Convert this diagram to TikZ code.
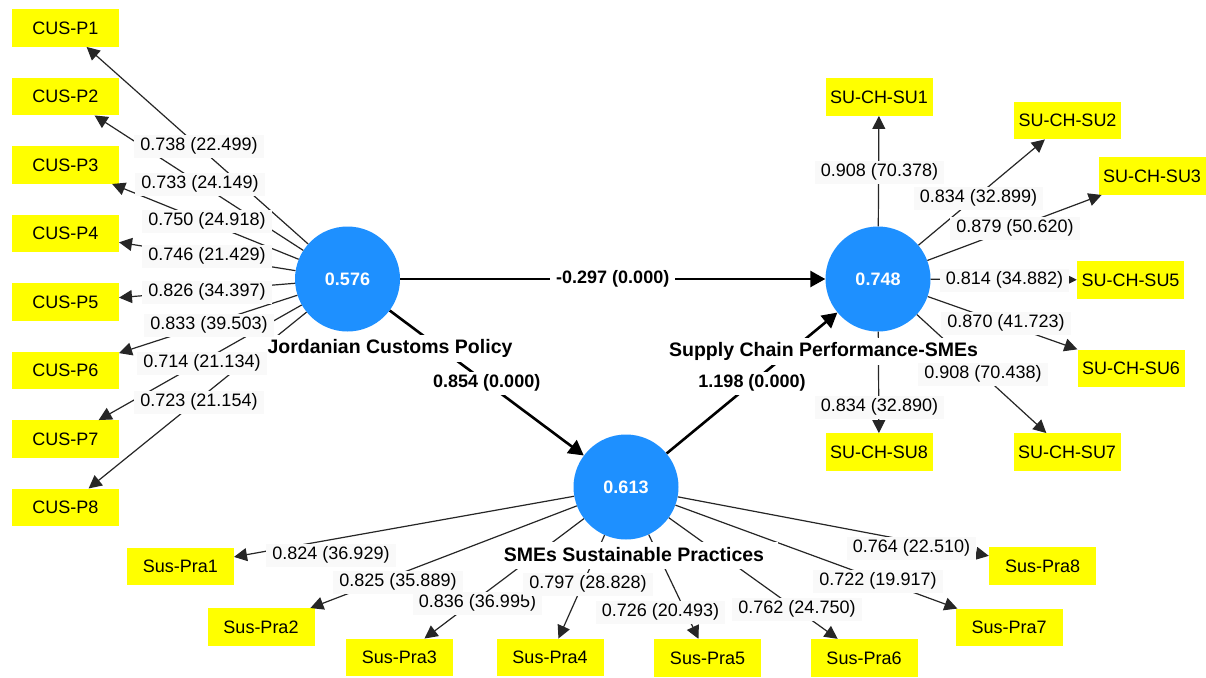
\documentclass[tikz,border=0pt]{standalone}
\usepackage{fontspec}
\setmainfont{Liberation Sans}
\usetikzlibrary{arrows.meta}
\definecolor{lvblue}{RGB}{30,144,255}
\definecolor{indyellow}{RGB}{255,255,0}
\begin{document}
\begin{tikzpicture}[x=1pt,y=-1pt,
  lv/.style={circle, fill=lvblue, minimum size=105pt, inner sep=0pt, text=white, font=\fontsize{18}{20}\selectfont\bfseries},
  ind/.style={rectangle, fill=indyellow, minimum width=107pt, minimum height=37.5pt, inner sep=0pt, font=\fontsize{18}{20}\selectfont},
  lvname/.style={fill=white, inner xsep=14pt, inner ysep=0pt, minimum height=27pt, font=\fontsize{19.5}{22}\selectfont\bfseries},
  loadval/.style={fill=black!2.5, inner xsep=6pt, inner ysep=3pt, text height=13pt, text depth=4pt, font=\fontsize{18}{20}\selectfont},
  pathval/.style={loadval, fill=white, font=\fontsize{18}{20}\selectfont\bfseries},
  loadarrow/.style={draw=black!85, line width=1.2pt, -{Triangle[length=13pt,width=13pt]}},
  patharrow/.style={draw=black, line width=2.6pt, -{Triangle[length=15pt,width=16pt]}},
]
\fill[white] (0,0) rectangle (1206,677);
\useasboundingbox (0,0) rectangle (1206,677);

% latent variables
\node[lv] (jcp) at (347.5,279) {0.576};
\node[lv] (scp) at (878,279) {0.748};
\node[lv] (sme) at (626,487) {0.613};

% indicators
\foreach \n/\x/\y/\t in {cus1/65.3/28/CUS-P1, cus2/65.3/96.5/CUS-P2, cus3/65.3/165/CUS-P3, cus4/65.3/233.7/CUS-P4,
  cus5/65.3/302/CUS-P5, cus6/65.3/370.5/CUS-P6, cus7/65.3/439/CUS-P7, cus8/65.3/507.4/CUS-P8}
  \node[ind] (\n) at (\x,\y) {\t};
\foreach \n/\x/\y/\t in {su1/879/97/SU-CH-SU1, su2/1067.5/120.5/SU-CH-SU2, su3/1152/176/SU-CH-SU3,
  su5/1130.5/280/SU-CH-SU5, su6/1131/368.3/SU-CH-SU6, su7/1067/452/SU-CH-SU7, su8/879/452/SU-CH-SU8}
  \node[ind] (\n) at (\x,\y) {\t};
\foreach \n/\x/\y/\t in {sp1/180.3/566.5/Sus-Pra1, sp2/261/627/Sus-Pra2, sp3/399.3/657.5/Sus-Pra3, sp4/550/657.5/Sus-Pra4,
  sp5/707.5/657.8/Sus-Pra5, sp6/864/657.8/Sus-Pra6, sp7/1009/627.5/Sus-Pra7, sp8/1042.5/566/Sus-Pra8}
  \node[ind] (\n) at (\x,\y) {\t};

% outer loadings connectors
\foreach \i in {1,...,8} \draw[loadarrow] (jcp) -- (cus\i);
\foreach \i in {1,2,3,5,6,7,8} \draw[loadarrow] (scp) -- (su\i);
\foreach \i in {1,...,8} \draw[loadarrow] (sme) -- (sp\i);

% structural paths
\draw[patharrow] (jcp) -- (scp);
\draw[patharrow] (jcp) -- (sme);
\draw[patharrow] (sme) -- (scp);

% construct names
\node[lvname] (njcp) at (390,348) {Jordanian Customs Policy};
\node[lvname] (nscp) at (823.5,351) {Supply Chain Performance-SMEs};
\node[lvname] (nsme) at (634,555) {SMEs Sustainable Practices};

% loading labels
\foreach \n/\x/\y/\t in {
  lcus1/199/146/0.738 (22.499), lcus2/200/184/0.733 (24.149), lcus3/207/221/0.750 (24.918), lcus4/207/256/0.746 (21.429),
  lcus5/207/292/0.826 (34.397), lcus6/209/325/0.833 (39.503), lcus7/202/363/0.714 (21.134), lcus8/199/402/0.723 (21.154),
  lsu1/879.5/172/0.908 (70.378), lsu2/978.5/198/0.834 (32.899), lsu3/1015/228/0.879 (50.620), lsu5/1004.5/280/0.814 (34.882),
  lsu6/1006/323/0.870 (41.723), lsu7/983/374/0.908 (70.438), lsu8/879.5/407/0.834 (32.890),
  lsp1/331/555/0.824 (36.929), lsp2/398/582/0.825 (35.889), lsp3/477.5/603/0.836 (36.995), lsp4/588/584/0.797 (28.828),
  lsp5/660.5/612/0.726 (20.493), lsp6/797/609/0.762 (24.750), lsp7/878/581/0.722 (19.917), lsp8/911.5/548/0.764 (22.510)}
  \node[loadval] (\n) at (\x,\y) {\t};

% path coefficient labels
\path (jcp) -- node[pathval] (pjs) {-0.297 (0.000)} (scp);
\path (jcp) -- node[pathval] (pjm) {0.854 (0.000)} (sme);
\path (sme) -- node[pathval] (pms) {1.198 (0.000)} (scp);
\end{tikzpicture}
\end{document}
